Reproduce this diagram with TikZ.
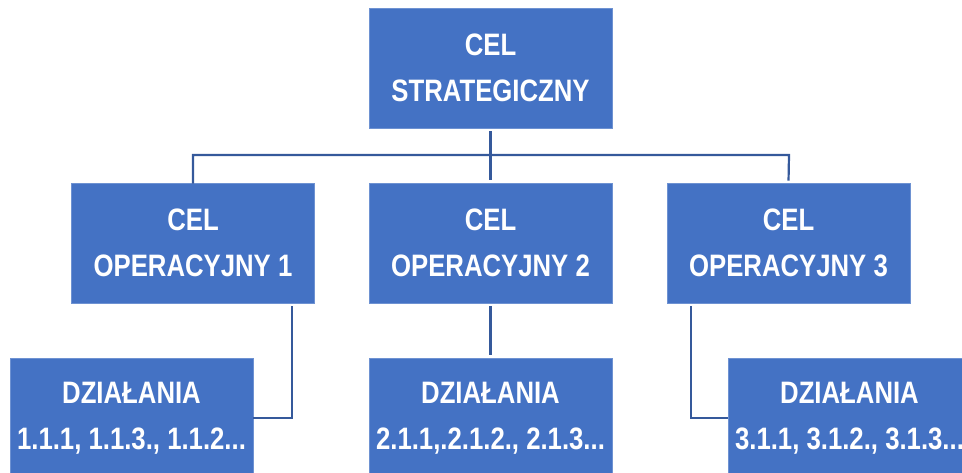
\documentclass[tikz,border=0pt]{standalone}
\usepackage{fontspec}
\setmainfont[FakeStretch=0.83]{Liberation Sans}
\definecolor{boxfill}{HTML}{4472C4}
\definecolor{boxedge}{HTML}{6E92D2}
\definecolor{linecol}{HTML}{35599B}
\tikzset{
  goalbox/.style={rectangle, fill=boxfill, draw=boxedge, line width=0.8pt,
    minimum width=243pt, minimum height=120pt, inner sep=0pt,
    text=white, align=center, font=\fontsize{31pt}{46pt}\selectfont\bfseries},
  conn/.style={draw=linecol, line width=2.2pt}
}
\begin{document}
\begin{tikzpicture}[x=1pt,y=-1pt]
\useasboundingbox (0,0) rectangle (962,473);
\clip (0,0) rectangle (962,473);
\node[goalbox] (top) at (490.5,68) {CEL\\STRATEGICZNY};
\node[goalbox] (op1) at (193,243) {CEL\\OPERACYJNY 1};
\node[goalbox] (op2) at (490.5,243) {CEL\\OPERACYJNY 2};
\node[goalbox] (op3) at (788.5,243) {CEL\\OPERACYJNY 3};
\node[goalbox] (d1) at (131.5,418) {DZIAŁANIA\\1.1.1, 1.1.3., 1.1.2...};
\node[goalbox] (d2) at (490.5,418) {DZIAŁANIA\\2.1.1,.2.1.2., 2.1.3...};
\node[goalbox] (d3) at (849.5,418) {DZIAŁANIA\\3.1.1, 3.1.2., 3.1.3...};
\coordinate (busL) at (193,155);
\coordinate (busR) at (789,155);
\coordinate (bend1) at (292,418);
\coordinate (bend3) at (691,418);
\draw[conn, shorten <=3pt] (top.south) -- (top.south |- busL);
\draw[conn, line cap=rect, shorten >=3pt] (op1.north) -- (busL) -- (busR) -- (op3.north);
\draw[conn, shorten >=3pt] (top.south |- busL) -- (op2.north);
\draw[conn, shorten <=3pt] (op1.south -| bend1) -- (bend1) -- (d1.east);
\draw[conn, shorten <=3pt, shorten >=3pt] (op2.south) -- (d2.north);
\draw[conn, shorten <=3pt] (op3.south -| bend3) -- (bend3) -- (d3.west);
\end{tikzpicture}
\end{document}
